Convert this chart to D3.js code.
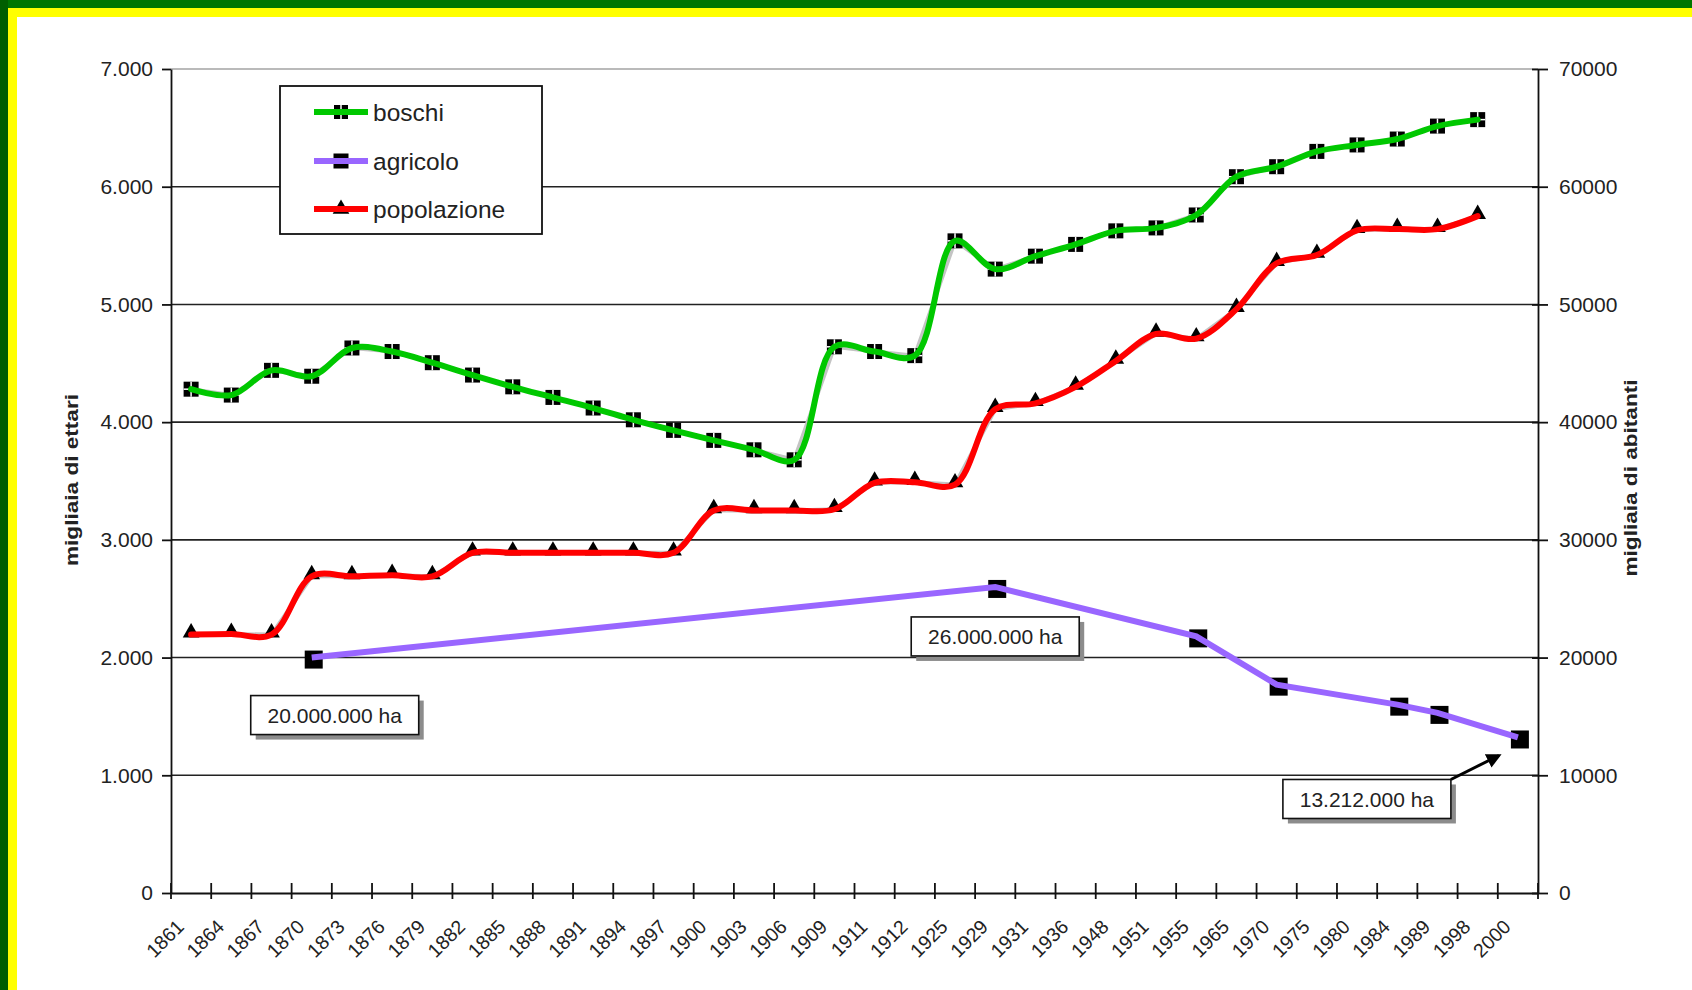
<!DOCTYPE html>
<html lang="it">
<head>
<meta charset="UTF-8">
<title>boschi, agricolo, popolazione</title>
<script src="https://cdn.jsdelivr.net/npm/d3@7/dist/d3.min.js"></script>
<style>
  html, body { margin: 0; padding: 0; background: #fff; }
  svg { display: block; font-family: "Liberation Sans", Arial, sans-serif; }
</style>
</head>
<body>
<svg id="mainsvg" width="1692" height="990"></svg>
<script>
// ---- data ----
const years = ['1861','1864','1867','1870','1873','1876','1879','1882','1885','1888','1891',
  '1894','1897','1900','1903','1906','1909','1911','1912','1925','1929','1931','1936','1948',
  '1951','1955','1965','1970','1975','1980','1984','1989','1998','2000'];

// migliaia di ettari (asse sinistro), 1861..1998
const boschi = [4280,4230,4440,4390,4630,4600,4505,4400,4300,4210,4120,4020,3930,3845,3765,3680,
  4640,4600,4565,5540,5300,5410,5510,5625,5650,5760,6085,6170,6300,6355,6405,6515,6570];

// migliaia di abitanti (asse destro), 1861..1998
const popolazione = [21950,22000,21950,26900,26900,27000,26900,28900,28900,28900,28900,28900,28900,
  32500,32500,32500,32600,34850,34900,34700,41100,41600,43000,45200,47500,47100,49600,53500,
  54200,56300,56400,56400,57500];

// superficie agricola, migliaia di ettari (asse destro)
const agricoloYears = ['1870','1929','1955','1970','1984','1989','2000'];
const agricolo = [20000,26000,21800,17700,16000,15300,13212];

const seriesNames = ['boschi','agricolo','popolazione'];
const seriesColors = ['#00c800','#9966ff','#ff0000'];

const leftTicks = d3.range(0, 7001, 1000);
const rightTicks = d3.range(0, 70001, 10000);

// annotated agricolo points (index into agricolo) and their text
const noteIdx = [0, 1, 6];
const noteText = ['20.000.000 ha', '26.000.000 ha', '13.212.000 ha'];

// ---- setup ----
const svg = d3.select('#mainsvg');
const width = +svg.attr('width'), height = +svg.attr('height');
const pLeft = 171, pRight = 1538, pTop = 69, pBottom = 893;

// frame: green + yellow border on top and left
svg.append('rect').attr('width', width).attr('height', height).attr('fill', '#fff');
svg.append('rect').attr('x', 0).attr('y', 0).attr('width', width).attr('height', 17).attr('fill', '#ffff00');
svg.append('rect').attr('x', 0).attr('y', 0).attr('width', 17).attr('height', height).attr('fill', '#ffff00');
svg.append('rect').attr('x', 0).attr('y', 0).attr('width', width).attr('height', 8).attr('fill', '#007600');
svg.append('rect').attr('x', 0).attr('y', 0).attr('width', 8).attr('height', height).attr('fill', '#005f00');

const x = d3.scaleBand().domain(years).range([pLeft, pRight]);
const cx = d => x(d) + x.bandwidth() / 2;
const yL = d3.scaleLinear().domain([0, 7000]).range([pBottom, pTop]);
const yR = d3.scaleLinear().domain([0, 70000]).range([pBottom, pTop]);

const itLocale = d3.formatLocale({decimal: ',', thousands: '.', grouping: [3], currency: ['', '']});
const fmtL = itLocale.format(',d');

// gridlines
svg.append('g').selectAll('line').data(leftTicks.filter(d => d > 0)).join('line')
  .attr('x1', pLeft).attr('x2', pRight)
  .attr('y1', d => yL(d)).attr('y2', d => yL(d))
  .attr('stroke', d => d === 7000 ? '#777' : '#222')
  .attr('stroke-width', d => d === 7000 ? 1.2 : 1.6);

// left axis
const gL = svg.append('g').attr('transform', `translate(${pLeft},0)`)
  .call(d3.axisLeft(yL).tickValues(leftTicks).tickFormat(fmtL).tickSize(9).tickSizeOuter(0).tickPadding(9));
gL.select('.domain').attr('stroke', '#111').attr('stroke-width', 1.8);
gL.selectAll('line').attr('stroke', '#111').attr('stroke-width', 1.8);
gL.selectAll('text').attr('font-size', 21).attr('fill', '#222');
gL.attr('font-family', null);

// right axis
const gR = svg.append('g').attr('transform', `translate(${pRight},0)`)
  .call(d3.axisRight(yR).tickValues(rightTicks).tickFormat(d3.format('d')).tickSize(10).tickSizeOuter(0).tickPadding(11));
gR.select('.domain').attr('stroke', '#111').attr('stroke-width', 1.8);
gR.selectAll('.tick line').attr('x1', -6).attr('stroke', '#111').attr('stroke-width', 1.8);
gR.selectAll('text').attr('font-size', 21).attr('fill', '#222');
gR.attr('font-family', null);

// bottom axis: labels at category centres, ticks between categories
const gB = svg.append('g').attr('transform', `translate(0,${pBottom})`)
  .call(d3.axisBottom(x).tickSize(0).tickPadding(0).tickSizeOuter(0));
gB.attr('font-family', null);
gB.select('.domain').attr('stroke', '#111').attr('stroke-width', 1.8);
gB.selectAll('text')
  .attr('font-size', 19.5).attr('fill', '#222')
  .attr('text-anchor', 'end').attr('y', 0).attr('dy', 0)
  .attr('transform', 'translate(-6,35) rotate(-45)');
gB.selectAll('.bound').data(years.map(d => x(d)).concat([pRight])).join('line')
  .attr('class', 'bound')
  .attr('x1', d => d).attr('x2', d => d).attr('y1', -10).attr('y2', 6)
  .attr('stroke', '#111').attr('stroke-width', 1.8);

// axis titles
svg.append('text').text('migliaia di ettari')
  .attr('transform', `translate(78,480) rotate(-90)`)
  .attr('text-anchor', 'middle').attr('font-size', 19).attr('font-weight', 'bold').attr('fill', '#222')
  .attr('textLength', 172).attr('lengthAdjust', 'spacingAndGlyphs');
svg.append('text').text('migliaia di abitanti')
  .attr('transform', `translate(1637,478) rotate(-90)`)
  .attr('text-anchor', 'middle').attr('font-size', 19).attr('font-weight', 'bold').attr('fill', '#222')
  .attr('textLength', 197).attr('lengthAdjust', 'spacingAndGlyphs');

// ---- markers ----
const squareMark = (g, s) => {
  g.append('rect').attr('x', -s / 2).attr('y', -s / 2).attr('width', s).attr('height', s).attr('fill', '#000');
  g.append('line').attr('x1', -s / 2).attr('x2', s / 2).attr('stroke', '#fff').attr('stroke-width', 1.5);
  g.append('line').attr('y1', -s / 2).attr('y2', s / 2).attr('stroke', '#fff').attr('stroke-width', 1.5);
};
const solidMark = (g, s) => {
  g.append('rect').attr('x', -s / 2).attr('y', -s / 2).attr('width', s).attr('height', s).attr('fill', '#000');
};
const triMark = g => {
  g.append('path').attr('d', d3.symbol(d3.symbolTriangle, 120)()).attr('fill', '#000');
};

const boschiPts = boschi.map((v, i) => ({year: years[i], v}));
const popPts = popolazione.map((v, i) => ({year: years[i], v}));
const agrPts = agricolo.map((v, i) => ({year: agricoloYears[i], v}));

const straightL = d3.line().x(d => cx(d.year)).y(d => yL(d.v));
const straightR = d3.line().x(d => cx(d.year)).y(d => yR(d.v));
const smoothL = d3.line().x(d => cx(d.year)).y(d => yL(d.v)).curve(d3.curveCatmullRom.alpha(0.5));
const smoothR = d3.line().x(d => cx(d.year)).y(d => yR(d.v)).curve(d3.curveCatmullRom.alpha(0.5));

const plot = svg.append('g');

// grey shadow lines
plot.append('path').attr('d', straightL(boschiPts)).attr('fill', 'none')
  .attr('stroke', '#c4c4c4').attr('stroke-width', 4);
plot.append('path').attr('d', straightR(popPts)).attr('fill', 'none')
  .attr('stroke', '#c4c4c4').attr('stroke-width', 4);

// markers
plot.selectAll('.mb').data(boschiPts).join('g').attr('class', 'mb')
  .attr('transform', d => `translate(${cx(d.year)},${yL(d.v)})`)
  .each(function () { squareMark(d3.select(this), 15); });
plot.selectAll('.mp').data(popPts).join('g').attr('class', 'mp')
  .attr('transform', d => `translate(${cx(d.year)},${yR(d.v) - 2})`)
  .each(function () { triMark(d3.select(this)); });
plot.selectAll('.ma').data(agrPts).join('g').attr('class', 'ma')
  .attr('transform', d => `translate(${cx(d.year) + 2},${yR(d.v) + 2})`)
  .each(function () { solidMark(d3.select(this), 18); });

// coloured lines
plot.append('path').attr('d', smoothL(boschiPts)).attr('fill', 'none')
  .attr('stroke', seriesColors[0]).attr('stroke-width', 6).attr('stroke-linecap', 'round');
plot.append('path').attr('d', straightR(agrPts)).attr('fill', 'none')
  .attr('stroke', seriesColors[1]).attr('stroke-width', 6);
plot.append('path').attr('d', smoothR(popPts)).attr('fill', 'none')
  .attr('stroke', seriesColors[2]).attr('stroke-width', 6).attr('stroke-linecap', 'round');

// ---- annotations ----
const noteOffset = [[-61, 38], [-84, 30], [-235, 42]];
const noteW = 168, noteH = 39;
noteIdx.forEach((k, i) => {
  const px = cx(agricoloYears[k]), py = yR(agricolo[k]);
  const bx = px + noteOffset[i][0], by = py + noteOffset[i][1];
  const g = svg.append('g').attr('transform', `translate(${bx},${by})`);
  g.append('rect').attr('x', 5).attr('y', 5).attr('width', noteW).attr('height', noteH).attr('fill', '#8c8c8c');
  g.append('rect').attr('width', noteW).attr('height', noteH).attr('fill', '#fff')
    .attr('stroke', '#111').attr('stroke-width', 1.6);
  g.append('text').text(noteText[i]).attr('x', noteW / 2).attr('y', noteH / 2).attr('dy', '0.36em')
    .attr('text-anchor', 'middle').attr('font-size', 21).attr('fill', '#222');
  if (i === 2) {
    svg.append('defs').append('marker').attr('id', 'arrow')
      .attr('viewBox', '0 0 10 10').attr('refX', 8).attr('refY', 5)
      .attr('markerWidth', 5).attr('markerHeight', 5).attr('orient', 'auto')
      .append('path').attr('d', 'M0,0 L10,5 L0,10 z').attr('fill', '#000');
    svg.append('line')
      .attr('x1', bx + noteW).attr('y1', by)
      .attr('x2', px - 19).attr('y2', py + 18)
      .attr('stroke', '#000').attr('stroke-width', 3)
      .attr('marker-end', 'url(#arrow)');
  }
});

// ---- legend ----
const lg = svg.append('g').attr('transform', 'translate(280,86)');
lg.append('rect').attr('width', 262).attr('height', 148).attr('fill', '#fff')
  .attr('stroke', '#111').attr('stroke-width', 1.8);
const rowY = [26, 75, 123];
seriesNames.forEach((name, i) => {
  const row = lg.append('g').attr('transform', `translate(0,${rowY[i]})`);
  const m = row.append('g').attr('transform', 'translate(61,0)');
  if (i === 0) squareMark(m, 14);
  if (i === 1) solidMark(m, 15);
  if (i === 2) triMark(m);
  row.append('line').attr('x1', 34).attr('x2', 88).attr('stroke', seriesColors[i]).attr('stroke-width', 6);
  row.append('text').text(name).attr('x', 93).attr('dy', '0.35em')
    .attr('font-size', 24.5).attr('fill', '#222');
});
</script>
</body>
</html>
